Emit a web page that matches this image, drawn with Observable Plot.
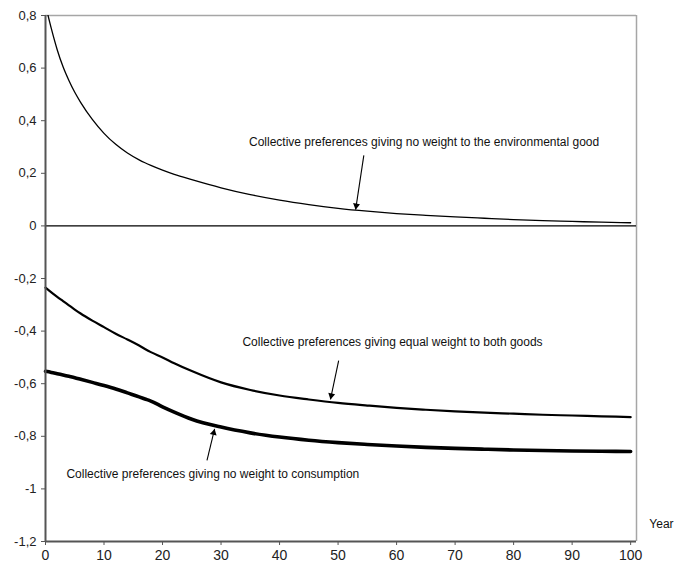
<!DOCTYPE html>
<html><head><meta charset="utf-8">
<script src="https://cdn.jsdelivr.net/npm/d3@7"></script>
<script src="https://cdn.jsdelivr.net/npm/@observablehq/plot@0.6"></script>
<style>body{margin:0;background:#fff;}</style>
</head><body><div id="chart"></div>
<script>
const years = [0,1,2,3,4,5,6,8,10,12,14,16,17,18,20,22,25,30,35,40,45,50,55,60,65,70,75,80,85,90,95,100];
const noEnvWeight = [0.84,0.75,0.67,0.605,0.553,0.508,0.47,0.405,0.352,0.31,0.277,0.251,0.240,0.23,0.212,0.196,0.176,0.145,0.119,0.098,0.081,0.067,0.056,0.047,0.04,0.034,0.029,0.024,0.02,0.017,0.014,0.012];
const equalWeight = [-0.235,-0.253,-0.27,-0.286,-0.302,-0.318,-0.333,-0.36,-0.385,-0.41,-0.432,-0.455,-0.468,-0.48,-0.50,-0.522,-0.552,-0.595,-0.624,-0.645,-0.66,-0.673,-0.683,-0.692,-0.699,-0.705,-0.71,-0.714,-0.718,-0.721,-0.724,-0.727];
const noConsWeight = [-0.553,-0.557,-0.562,-0.567,-0.572,-0.577,-0.583,-0.595,-0.607,-0.62,-0.635,-0.65,-0.658,-0.666,-0.688,-0.708,-0.735,-0.765,-0.787,-0.803,-0.815,-0.824,-0.831,-0.837,-0.842,-0.846,-0.849,-0.852,-0.854,-0.856,-0.857,-0.858];

const yTicks = [-1.2,-1,-0.8,-0.6,-0.4,-0.2,0,0.2,0.4,0.6,0.8];
const xTicks = [0,10,20,30,40,50,60,70,80,90,100];

const labelTexts = [
  "Collective preferences giving no weight to the environmental good",
  "Collective preferences giving equal weight to both goods",
  "Collective preferences giving no weight to consumption"
];
const labelYears = [64.7, 59.3, 28.6];
const labelValues = [0.318, -0.442, -0.945];

const arrowStartYears = [54.4, 50.1, 27.6];
const arrowStartValues = [0.268, -0.512, -0.892];
const arrowTipYears = [53.0, 48.7, 28.9];
const arrowTipValues = [0.062, -0.66, -0.772];

const axisTitle = "Year";
const axisTitleYear = 103.2;
const axisTitleValue = -1.133;

const W = 674, H = 567, mL = 45, mR = 38, mT = 15, mB = 26;
const xDomain = [0, 101], yDomain = [-1.2, 0.8];
const kx = (W - mL - mR) / (xDomain[1] - xDomain[0]);
const ky = (H - mT - mB) / (yDomain[1] - yDomain[0]);

const series = (vals) => years.map((t, i) => ({t, v: vals[i]}));
const labels = labelTexts.map((s, i) => ({s, t: labelYears[i], v: labelValues[i]}));
const arrows = arrowStartYears.map((t1, i) => {
  const v1 = arrowStartValues[i], t2 = arrowTipYears[i], v2 = arrowTipValues[i];
  const dx = (t2 - t1) * kx, dy = -(v2 - v1) * ky;
  const len = Math.hypot(dx, dy);
  const ux = dx / len, uy = dy / len;
  const back = 4;
  return {t1, v1, t2, v2,
    ht: t2 - back * ux / kx, hv: v2 + back * uy / ky,
    angle: Math.atan2(dx, -dy) * 180 / Math.PI};
});

const fmt = d => String(d).replace(".", ",");

const chart = Plot.plot({
  width: W, height: H,
  marginLeft: mL, marginRight: mR, marginTop: mT, marginBottom: mB,
  x: {domain: xDomain},
  y: {domain: yDomain},
  style: {fontFamily: "'Liberation Sans', Arial, sans-serif", fontSize: "12px", background: "white", color: "#222"},
  marks: [
    Plot.ruleY([0.8], {stroke: "#a6a6a6", strokeWidth: 1.5}),
    Plot.ruleX([101], {stroke: "#a6a6a6", strokeWidth: 1.5}),
    Plot.ruleY([0], {stroke: "black", strokeWidth: 1.2}),
    Plot.line(series(noEnvWeight), {x: "t", y: "v", stroke: "black", strokeWidth: 1.3, curve: "monotone-x", clip: true}),
    Plot.line(series(equalWeight), {x: "t", y: "v", stroke: "black", strokeWidth: 2.2, curve: "monotone-x"}),
    Plot.line(series(noConsWeight), {x: "t", y: "v", stroke: "black", strokeWidth: 3.6, curve: "monotone-x"}),
    Plot.link(arrows, {x1: "t1", y1: "v1", x2: "t2", y2: "v2", stroke: "black", strokeWidth: 1.1}),
    Plot.dot(arrows, {x: "ht", y: "hv", symbol: "triangle", r: 2.6, fill: "black", stroke: "none", rotate: "angle"}),
    Plot.text(labels, {x: "t", y: "v", text: "s", fontSize: 12, fill: "#111"}),
    Plot.text([axisTitle], {x: axisTitleYear, y: axisTitleValue, text: d => d, textAnchor: "start", fontSize: 12, fill: "#111"}),
    Plot.axisY({ticks: yTicks, tickFormat: fmt, tickSize: 4, tickPadding: 5, label: null, stroke: "#555", fontSize: 13}),
    Plot.axisX({ticks: xTicks, tickSize: 4, tickPadding: 5, label: null, stroke: "#555", fontSize: 14}),
    Plot.ruleX([0], {stroke: "#555", strokeWidth: 2}),
    Plot.ruleY([-1.2], {stroke: "#555", strokeWidth: 2})
  ]
});
document.getElementById("chart").appendChild(chart);
</script>
</body></html>
